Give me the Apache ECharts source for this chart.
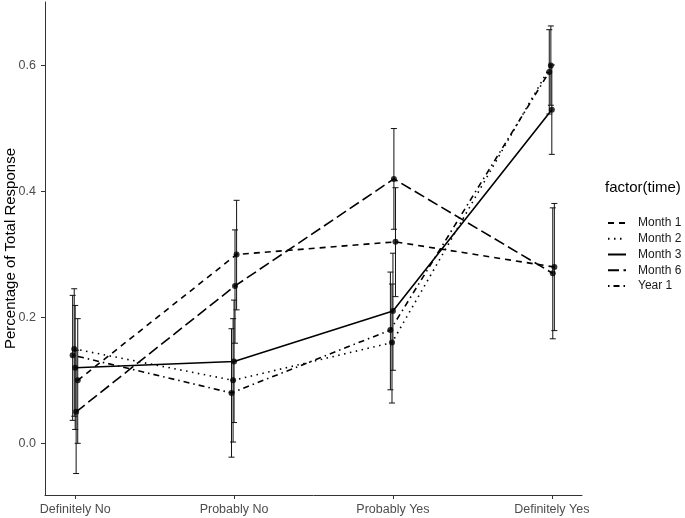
<!DOCTYPE html>
<html><head><meta charset="utf-8">
<script src="https://cdn.jsdelivr.net/npm/echarts@6/dist/echarts.min.js"></script>
<style>html,body{margin:0;padding:0;background:#fff}#c{width:685px;height:518px}</style>
</head><body><div id="c"></div>
<script>
// ---- data ----
const categories = ['Definitely No', 'Probably No', 'Probably Yes', 'Definitely Yes'];
const seriesNames = ['Month 1', 'Month 2', 'Month 3', 'Month 6', 'Year 1'];
const yTicks = [0, 0.2, 0.4, 0.6];

const month1 = [0.10, 0.30, 0.32, 0.28];
const month2 = [0.15, 0.10, 0.16, 0.60];
const month3 = [0.12, 0.13, 0.21, 0.53];
const month6 = [0.05, 0.25, 0.42, 0.27];
const year1  = [0.14, 0.08, 0.18, 0.59];

const month1Low  = [0.000, 0.212, 0.233, 0.179];
const month1High = [0.198, 0.386, 0.406, 0.381];
const month2Low  = [0.043, 0.002, 0.064, 0.537];
const month2High = [0.2455, 0.198, 0.253, 0.663];
const month3Low  = [0.022, 0.033, 0.116, 0.459];
const month3High = [0.219, 0.2275, 0.302, 0.601];
const month6Low  = [-0.048, 0.159, 0.340, 0.166];
const month6High = [0.148, 0.339, 0.500, 0.374];
const year1Low   = [0.0365, -0.022, 0.085, 0.523];
const year1High  = [0.235, 0.182, 0.272, 0.657];

// ---- styling ----
const values = [month1, month2, month3, month6, year1];
const lows = [month1Low, month2Low, month3Low, month6Low, year1Low];
const highs = [month1High, month2High, month3High, month6High, year1High];
const dodge = [0.016, -0.006, 0, 0.006, -0.016];
const dashes = [[6, 5], [1.5, 4.5], 'solid', [11, 4.5], [1.5, 4, 6, 4]];
const FONT = 'Liberation Sans, Arial, sans-serif';

const series = [];
seriesNames.forEach((name, i) => {
  series.push({
    name: name, type: 'line', symbol: 'none', showSymbol: false, z: 2,
    lineStyle: { color: '#000', width: 1.6, type: dashes[i], cap: 'butt' },
    itemStyle: { color: '#000' },
    data: values[i].map((v, k) => [k + dodge[i], v])
  });
});
seriesNames.forEach((name, i) => {
  series.push({
    name: name + ' err', type: 'custom', z: 3,
    renderItem: function (params, api) {
      const x = api.value(0), lo = api.value(1), hi = api.value(2);
      const a = api.coord([x, lo]), b = api.coord([x, hi]);
      const hw = 3;
      const st = { stroke: '#111', lineWidth: 1 };
      return { type: 'group', children: [
        { type: 'line', shape: { x1: a[0], y1: a[1], x2: b[0], y2: b[1] }, style: st },
        { type: 'line', shape: { x1: b[0] - hw, y1: b[1], x2: b[0] + hw, y2: b[1] }, style: st },
        { type: 'line', shape: { x1: a[0] - hw, y1: a[1], x2: a[0] + hw, y2: a[1] }, style: st }
      ]};
    },
    encode: { x: 0, y: [1, 2] },
    data: values[i].map((v, k) => [k + dodge[i], lows[i][k], highs[i][k]])
  });
});
seriesNames.forEach((name, i) => {
  series.push({
    name: name + ' pts', type: 'scatter', z: 4, symbol: 'circle', symbolSize: 6,
    itemStyle: { color: '#000' },
    data: values[i].map((v, k) => [k + dodge[i], v])
  });
});

const axisColor = '#333';
const chart = echarts.init(document.getElementById('c'), null, { renderer: 'canvas' });
chart.setOption({
  animation: false,
  backgroundColor: '#fff',
  grid: { left: 45, right: 103, top: 2, bottom: 23, containLabel: false, outerBoundsMode: 'none' },
  xAxis: {
    type: 'value', min: -0.19, max: 3.19,
    splitLine: { show: false },
    axisLine: { show: true, onZero: false, lineStyle: { color: axisColor, width: 1 } },
    axisTick: { show: true, length: 4, lineStyle: { color: axisColor }, customValues: [0, 1, 2, 3] },
    axisLabel: { customValues: [0, 1, 2, 3], formatter: v => categories[Math.round(v)],
      color: '#4d4d4d', fontSize: 12.5, fontFamily: FONT, margin: 8 }
  },
  yAxis: {
    type: 'value', min: -0.0821, max: 0.701,
    splitLine: { show: false },
    axisLine: { show: true, onZero: false, lineStyle: { color: axisColor, width: 1 } },
    axisTick: { show: true, length: 4, lineStyle: { color: axisColor }, customValues: yTicks },
    axisLabel: { customValues: yTicks, formatter: v => v.toFixed(1),
      color: '#4d4d4d', fontSize: 12.5, fontFamily: FONT, margin: 9 },
    name: 'Percentage of Total Response', nameLocation: 'middle', nameGap: 27, nameRotate: 90,
    nameMoveOverlap: false,
    nameTextStyle: { color: '#000', fontSize: 15, fontFamily: FONT }
  },
  legend: {
    data: seriesNames, orient: 'vertical', left: 602, top: 211,
    itemWidth: 18, itemHeight: 14, itemGap: 1.75,
    itemStyle: { opacity: 0 },
    textStyle: { color: '#1a1a1a', fontSize: 12, fontFamily: FONT,
      lineHeight: 14, padding: [0, 0, 0, 7] }
  },
  graphic: [{
    type: 'text', left: 605, top: 180,
    style: { text: 'factor(time)', fill: '#000', fontSize: 15, fontFamily: FONT }
  }],
  series: series
});
</script></body></html>
